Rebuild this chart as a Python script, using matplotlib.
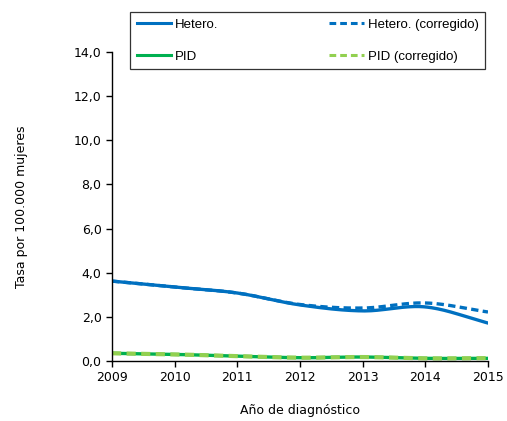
import numpy as np
import matplotlib
matplotlib.use("Agg")
import matplotlib.pyplot as plt
from matplotlib.ticker import FuncFormatter

years = [2009, 2010, 2011, 2012, 2013, 2014, 2015]
hetero = [3.62, 3.35, 3.08, 2.54, 2.27, 2.45, 1.72]
hetero_corr = [3.62, 3.35, 3.08, 2.56, 2.40, 2.63, 2.22]
pid = [0.35, 0.30, 0.22, 0.15, 0.18, 0.12, 0.12]
pid_corr = [0.35, 0.30, 0.22, 0.15, 0.18, 0.12, 0.13]


def smooth(x, y, n=30):
	# catmull-rom, like the excel smoothed line
	x = np.asarray(x, float)
	y = np.asarray(y, float)
	px = np.concatenate([[2 * x[0] - x[1]], x, [2 * x[-1] - x[-2]]])
	py = np.concatenate([[2 * y[0] - y[1]], y, [2 * y[-1] - y[-2]]])
	xs, ys = [], []
	t = np.linspace(0, 1, n, endpoint=False)
	for i in range(1, len(px) - 2):
		for p, out in ((px, xs), (py, ys)):
			p0, p1, p2, p3 = p[i - 1], p[i], p[i + 1], p[i + 2]
			out.extend(0.5 * (2 * p1 + (-p0 + p2) * t + (2 * p0 - 5 * p1 + 4 * p2 - p3) * t ** 2
				+ (-p0 + 3 * p1 - 3 * p2 + p3) * t ** 3))
	xs.append(x[-1])
	ys.append(y[-1])
	return xs, ys


fig = plt.figure(figsize=(5.07, 4.21), dpi=100)
ax = fig.add_axes([112 / 507, 1 - 361 / 421, 376 / 507, 309 / 421])

blue = '#0070C0'
green = '#00B050'
lgreen = '#92D050'

l1, = ax.plot(*smooth(years, hetero_corr), color=blue, lw=2.4, ls=(0, (2.2, 1.3)), label='Hetero. (corregido)')
l0, = ax.plot(*smooth(years, hetero), color=blue, lw=2.4, label='Hetero.')
l2, = ax.plot(*smooth(years, pid), color=green, lw=2.4, label='PID')
l3, = ax.plot(*smooth(years, pid_corr), color=lgreen, lw=3.0, ls=(0, (2.2, 1.3)), label='PID (corregido)')

ax.set_xlim(2009, 2015)
ax.set_ylim(0, 14)
ax.set_xticks(years)
ax.set_yticks(np.arange(0, 15, 2))
ax.yaxis.set_major_formatter(FuncFormatter(lambda v, p: ('%.1f' % v).replace('.', ',')))
ax.tick_params(labelsize=9, length=4, width=1, color='black', direction='out')
for s in ['top', 'right']:
	ax.spines[s].set_visible(False)
for s in ['left', 'bottom']:
	ax.spines[s].set_linewidth(1)

ax.set_xlabel('Año de diagnóstico', fontsize=9, labelpad=14)
ax.set_ylabel('Tasa por 100.000 mujeres', fontsize=9, labelpad=33)

# column-wise fill: Hetero./PID in the first column
leg = fig.legend([l0, l2, l1, l3], ['Hetero.', 'PID', 'Hetero. (corregido)', 'PID (corregido)'],
	ncol=2, loc='upper left', mode='expand',
	bbox_to_anchor=(130 / 507, 1 - 72 / 421, 355 / 507, 60 / 421), frameon=True, fancybox=False,
	edgecolor='black', prop={'family': ['Liberation Sans Narrow', 'Liberation Sans'], 'size': 9.5},
	handlelength=2.6, labelspacing=1.5, borderpad=0.5, handletextpad=0.3, borderaxespad=0)
leg.get_frame().set_linewidth(0.9)
for h in leg.get_lines():
	h.set_linewidth(2.2)

fig.savefig('out.png', dpi=100)
